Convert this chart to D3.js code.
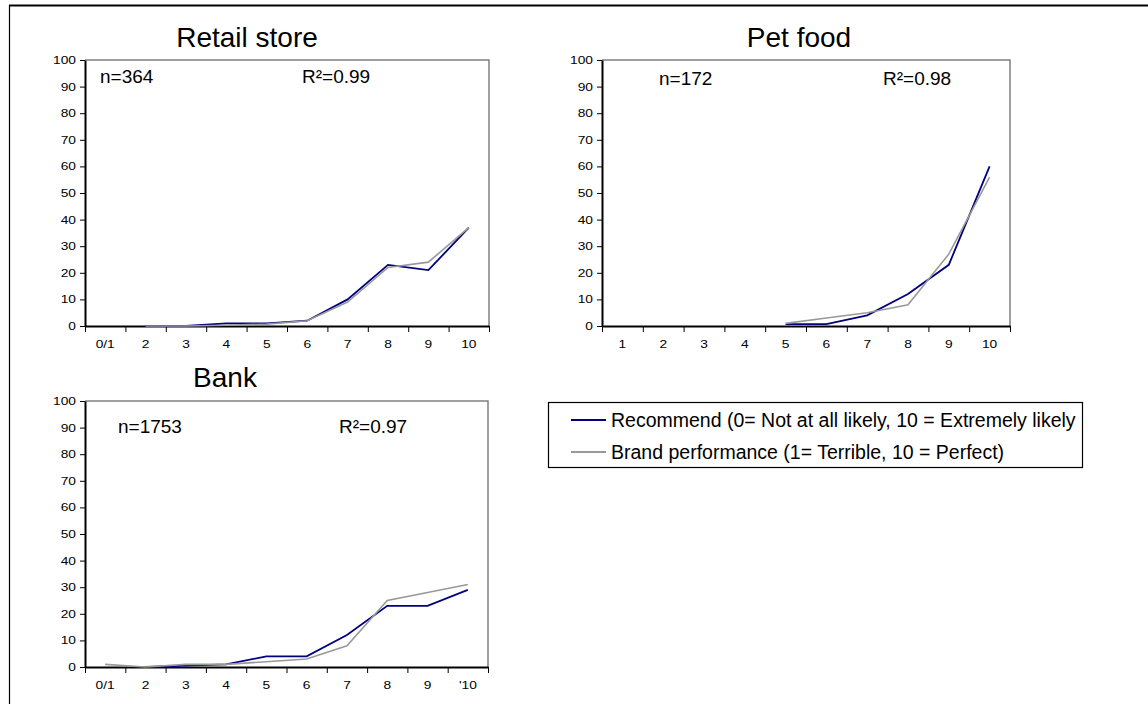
<!DOCTYPE html>
<html>
<head>
<meta charset="utf-8">
<script src="https://cdn.jsdelivr.net/npm/d3@7"></script>
<style>
  html, body { margin: 0; padding: 0; background: #fff; }
  svg text { font-family: "Liberation Sans", Arial, sans-serif; fill: #000; }
</style>
</head>
<body>
<svg id="chart" width="1148" height="704"></svg>
<script>
// ---- Data ----
const yTickValues = [0, 10, 20, 30, 40, 50, 60, 70, 80, 90, 100];

const retailCategories = ["0/1", "2", "3", "4", "5", "6", "7", "8", "9", "10"];
const retailRecommend  = [null, 0, 0, 1, 1, 2, 10, 23, 21, 37];
const retailBrand      = [null, 0, 0, 0.3, 0.7, 2, 9, 22, 24, 37];

const petCategories = ["1", "2", "3", "4", "5", "6", "7", "8", "9", "10"];
const petRecommend  = [null, null, null, null, 0.7, 0.7, 4, 12, 23, 60];
const petBrand      = [null, null, null, null, 1, 3, 5, 8, 27, 56];

const bankCategories = ["0/1", "2", "3", "4", "5", "6", "7", "8", "9", "'10"];
const bankRecommend  = [null, 0, 0.5, 1, 4, 4, 12, 23, 23, 29];
const bankBrand      = [1, 0, 1, 1, 2, 3, 8, 25, 28, 31];

const panelTitles  = ["Retail store", "Pet food", "Bank"];
const panelN       = ["n=364", "n=172", "n=1753"];
const panelR2      = ["R\u00B2=0.99", "R\u00B2=0.98", "R\u00B2=0.97"];
const seriesNames  = ["Recommend (0= Not at all likely, 10 = Extremely likely", "Brand performance (1= Terrible, 10 = Perfect)"];
const seriesColors = ["#000080", "#999999"];

// ---- Layout ----
const panels = [
  { title: panelTitles[0], n: panelN[0], r2: panelR2[0], cats: retailCategories, series: [retailRecommend, retailBrand],
    x0: 85, x1: 489, y0: 60, y1: 326, titleX: 247, titleY: 47, nX: 100, r2X: 302, labY: 83 },
  { title: panelTitles[1], n: panelN[1], r2: panelR2[1], cats: petCategories, series: [petRecommend, petBrand],
    x0: 602, x1: 1010, y0: 60, y1: 326, titleX: 799, titleY: 47, nX: 659, r2X: 883, labY: 85 },
  { title: panelTitles[2], n: panelN[2], r2: panelR2[2], cats: bankCategories, series: [bankRecommend, bankBrand],
    x0: 85, x1: 488, y0: 401, y1: 667, titleX: 225, titleY: 387, nX: 118, r2X: 339, labY: 433 }
];

const svg = d3.select("#chart");
const SX = 1.25; // horizontal stretch of small tick labels

// outer frame (top and left edges)
svg.append("line").attr("x1", 9).attr("x2", 1148).attr("y1", 5.5).attr("y2", 5.5)
  .attr("stroke", "#000").attr("stroke-width", 2);
svg.append("line").attr("x1", 9.5).attr("x2", 9.5).attr("y1", 5).attr("y2", 704)
  .attr("stroke", "#000").attr("stroke-width", 1.2);

panels.forEach(p => {
  const g = svg.append("g");
  const x = d3.scaleBand().domain(p.cats).range([p.x0, p.x1]).padding(0);
  const xEdge = d3.scaleLinear().domain([0, p.cats.length]).range([p.x0, p.x1]);
  const y = d3.scaleLinear().domain([0, 100]).range([p.y1, p.y0]);

  // plot frame (top/right gray)
  g.append("path")
    .attr("d", `M${p.x0},${p.y0}H${p.x1}V${p.y1}`)
    .attr("fill", "none").attr("stroke", "#808080").attr("stroke-width", 1.5);

  // Y axis
  const yAxis = g.append("g").attr("transform", `translate(${p.x0},0)`)
    .call(d3.axisLeft(y).tickValues(yTickValues).tickSize(5).tickPadding(4).tickSizeOuter(0));
  yAxis.select(".domain").attr("stroke", "#000").attr("stroke-width", 2);
  yAxis.selectAll(".tick line").attr("stroke", "#000").attr("stroke-width", 1);
  yAxis.selectAll(".tick text")
    .style("font-size", "11px").style("font-family", "'Liberation Sans', Arial, sans-serif")
    .attr("x", -9 / SX).attr("transform", `scale(${SX},1)`);

  // X axis: tick marks at category boundaries
  const xTicks = g.append("g").attr("transform", `translate(0,${p.y1})`)
    .call(d3.axisBottom(xEdge).tickValues(d3.range(0, p.cats.length + 1)).tickSize(6).tickFormat("").tickSizeOuter(0));
  xTicks.select(".domain").attr("stroke", "#000").attr("stroke-width", 2);
  xTicks.selectAll(".tick line").attr("stroke", "#000").attr("stroke-width", 1);

  // X labels centred in bands
  const xLabels = g.append("g").attr("transform", `translate(0,${p.y1})`)
    .call(d3.axisBottom(x).tickSize(0).tickPadding(14).tickSizeOuter(0));
  xLabels.select(".domain").remove();
  xLabels.selectAll(".tick text")
    .style("font-size", "11px").style("font-family", "'Liberation Sans', Arial, sans-serif")
    .attr("transform", `scale(${SX},1)`);

  // lines
  p.series.forEach((vals, si) => {
    const pts = p.cats.map((c, i) => ({ c, v: vals[i] }));
    const line = d3.line()
      .defined(d => d.v !== null)
      .x(d => x(d.c) + x.bandwidth() / 2)
      .y(d => y(d.v));
    g.append("path").datum(pts)
      .attr("d", line)
      .attr("fill", "none")
      .attr("stroke", seriesColors[si])
      .attr("stroke-width", si === 0 ? 1.8 : 1.6)
      .attr("stroke-linejoin", "miter");
  });

  // title and annotations
  g.append("text").attr("x", p.titleX).attr("y", p.titleY)
    .attr("text-anchor", "middle").style("font-size", "28px").text(p.title);
  g.append("text").attr("x", p.nX).attr("y", p.labY)
    .style("font-size", "19px").text(p.n);
  g.append("text").attr("x", p.r2X).attr("y", p.labY)
    .style("font-size", "19px").text(p.r2);
});

// ---- Legend ----
const lg = svg.append("g");
lg.append("rect").attr("x", 548.5).attr("y", 402.5).attr("width", 534).attr("height", 65)
  .attr("fill", "#fff").attr("stroke", "#000").attr("stroke-width", 1.2);
const legendRows = [420, 452];
seriesNames.forEach((name, i) => {
  lg.append("line").attr("x1", 571).attr("x2", 606).attr("y1", legendRows[i]).attr("y2", legendRows[i])
    .attr("stroke", seriesColors[i]).attr("stroke-width", 1.8);
  lg.append("text").attr("x", 611).attr("y", legendRows[i] + 7)
    .style("font-size", "19.5px").text(name);
});
</script>
</body>
</html>
